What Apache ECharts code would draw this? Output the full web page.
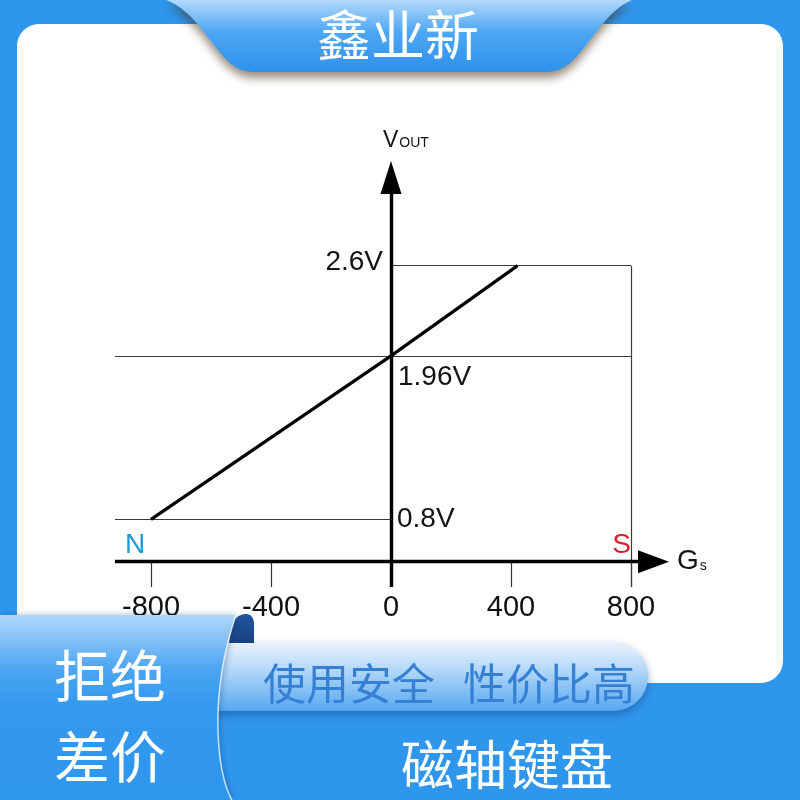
<!DOCTYPE html>
<html>
<head>
<meta charset="utf-8">
<script src="https://cdn.jsdelivr.net/npm/echarts@6/dist/echarts.min.js"></script>
<style>
html,body{margin:0;padding:0;background:#2f96ee;}
#c{width:800px;height:800px;}
</style>
</head>
<body>
<div id="c"></div>
<script>
// ---- data ----
const xTickValues = [-800, -400, 0, 400, 800];
const xRange = [-920, 920];
const yRange = [0.32, 3.3];
const xAxisLevel = 0.5;
const transferX = [-800, 0, 422];
const transferY = [0.8, 1.96, 2.6];
const levelValues = [2.6, 1.96, 0.8];
const levelLabels = ['2.6V', '1.96V', '0.8V'];
const xArrowEnd = 875;
const yArrowEnd = 3.226;
const poleLabels = ['N', 'S'];
const axisNames = ['G', 's', 'V', 'OUT'];
const titleText = '鑫业新';
const sideTexts = ['拒绝', '差价'];
const pillTexts = ['使用安全', '性价比高'];
const footerText = '磁轴键盘';

const latin = '"Liberation Sans", Arial, sans-serif';
const narrow = '"Liberation Sans Narrow", "Liberation Sans", Arial, sans-serif';
const cjk = '"Noto Sans CJK SC", sans-serif';
const G = echarts.graphic;

// sample a simple path (M/L/C commands) into polygon points (decoration only)
function samplePath(cmds) {
  const pts = [];
  let cx = 0, cy = 0;
  cmds.forEach(c => {
    if (c[0] === 'M' || c[0] === 'L') { cx = c[1]; cy = c[2]; pts.push([cx, cy]); }
    else if (c[0] === 'C') {
      const [, x1, y1, x2, y2, x, y] = c;
      for (let i = 1; i <= 16; i++) {
        const t = i / 16, u = 1 - t;
        pts.push([u*u*u*cx + 3*u*u*t*x1 + 3*u*t*t*x2 + t*t*t*x,
                  u*u*u*cy + 3*u*u*t*y1 + 3*u*t*t*y2 + t*t*t*y]);
      }
      cx = x; cy = y;
    }
  });
  return pts;
}

const gridTop = 167, gridBottom = 213;
const pxPerV = (800 - gridTop - gridBottom) / (yRange[1] - yRange[0]);
const xAxisOffset = -Math.round((xAxisLevel - yRange[0]) * pxPerV);

const chart = echarts.init(document.getElementById('c'), null, {renderer: 'canvas'});

const lineData = transferX.map((x, i) => [x, transferY[i]]);
const maxX = xTickValues[xTickValues.length - 1];

const thinLines = [
  [{coord: [0, levelValues[0]]}, {coord: [maxX, levelValues[0]]}],
  [{coord: [xRange[0], levelValues[1]]}, {coord: [maxX, levelValues[1]]}],
  [{coord: [xRange[0], levelValues[2]]}, {coord: [0, levelValues[2]]}],
  [{coord: [maxX, yRange[0]]}, {coord: [maxX, levelValues[0]]}]
];
const axisLines = [
  [{coord: [xRange[0], xAxisLevel], symbol: 'none'},
   {coord: [xArrowEnd, xAxisLevel], symbol: 'triangle', symbolSize: [23, 31]}],
  [{coord: [0, yRange[0]], symbol: 'none'},
   {coord: [0, yArrowEnd], symbol: 'triangle', symbolSize: [21, 33]}]
];

function txt(coord, text, opts) {
  return {
    coord: coord, value: 0,
    label: Object.assign({
      show: true, position: 'inside', formatter: text,
      fontFamily: latin, fontSize: 28, color: '#141414',
      verticalAlign: 'middle'
    }, opts)
  };
}

const textPoints = [
  txt([0, levelValues[0]], levelLabels[0], {align: 'right', offset: [-8, -3]}),
  txt([0, levelValues[1]], levelLabels[1], {align: 'left', offset: [7, 21]}),
  txt([0, levelValues[2]], levelLabels[2], {align: 'left', offset: [6, 0]}),
  txt([xRange[0], xAxisLevel], poleLabels[0], {align: 'left', offset: [10, -16], color: '#1c9ad8'}),
  txt([maxX, xAxisLevel], poleLabels[1], {align: 'right', offset: [0, -16], color: '#d3222a'}),
  txt([xRange[1], xAxisLevel], '{g|' + axisNames[0] + '}{s|' + axisNames[1] + '}', {
    align: 'left', offset: [10, 0],
    rich: {g: {fontSize: 28, fontFamily: latin, color: '#141414', verticalAlign: 'bottom'},
           s: {fontSize: 14, fontFamily: latin, color: '#141414', verticalAlign: 'bottom', padding: [0, 0, 2, 1]}}
  }),
  txt([0, yRange[1]], '{v|' + axisNames[2] + '}{o|' + axisNames[3] + '}', {
    align: 'left', offset: [-8, -26],
    rich: {v: {fontSize: 23, fontFamily: latin, color: '#141414', verticalAlign: 'bottom'},
           o: {fontSize: 14, fontFamily: latin, color: '#141414', verticalAlign: 'bottom', padding: [0, 0, 2, 1]}}
  })
];

const tabPts = samplePath([['M',166,0],['L',632,0],['C',614,8,604,22,590,40],['C',576,58,566,72,546,72],
  ['L',254,72],['C',234,72,224,58,210,40],['C',196,22,186,8,166,0]]);
const panelEdge = [['M',236,615],['C',224,650,217,690,218,730],['C',219,765,225,788,232,800]];
const panelPts = samplePath([['M',0,615]].concat([['L',236,615]], panelEdge.slice(1), [['L',0,800]]));
const edgePts = samplePath(panelEdge);
const foldPts = samplePath([['M',229,643],['L',231,628],['C',233,619,239,614,246,614],['C',251,614,254,618,254,624],['L',254,643]]);

const option = {
  animation: false,
  grid: {left: 115, right: 133, top: gridTop, bottom: gridBottom, containLabel: false},
  xAxis: {
    type: 'value', min: xRange[0], max: xRange[1], offset: xAxisOffset,
    axisLine: {show: false},
    splitLine: {show: false},
    axisTick: {show: true, customValues: xTickValues, length: 25, inside: false,
               lineStyle: {color: '#333', width: 1.2}},
    axisLabel: {show: true, customValues: xTickValues, margin: 31, fontSize: 29,
                fontFamily: narrow, color: '#111', verticalAlign: 'top'}
  },
  yAxis: {
    type: 'value', min: yRange[0], max: yRange[1],
    axisLine: {show: false}, axisTick: {show: false},
    axisLabel: {show: false}, splitLine: {show: false}
  },
  series: [
    {
      type: 'line', data: [], silent: true, clip: false, z: 3,
      markLine: {
        silent: true, symbol: ['none', 'none'], animation: false,
        label: {show: false},
        lineStyle: {color: '#3a3a3a', width: 1.2, type: 'solid'},
        emphasis: {disabled: true},
        data: thinLines
      }
    },
    {
      type: 'line', data: lineData, showSymbol: false, symbol: 'none', silent: true, clip: false, z: 5,
      lineStyle: {color: '#000', width: 3.2},
      markLine: {
        silent: true, symbol: ['none', 'none'], animation: false,
        label: {show: false},
        lineStyle: {color: '#000', width: 3.4, type: 'solid'},
        itemStyle: {color: '#000'},
        emphasis: {disabled: true},
        data: axisLines
      },
      markPoint: {
        silent: true, animation: false,
        symbol: 'circle', symbolSize: 1,
        itemStyle: {color: 'rgba(0,0,0,0)'},
        data: textPoints
      }
    }
  ],
  graphic: [
    {type: 'rect', z: -30, silent: true, shape: {x: 0, y: 0, width: 800, height: 800},
     style: {fill: '#2f96ee'}},
    {type: 'rect', z: -20, silent: true, shape: {x: 17, y: 24, width: 766, height: 659, r: 22},
     style: {fill: '#ffffff'}},
    {type: 'polygon', z: 50, silent: true, shape: {points: tabPts},
     style: {fill: new G.LinearGradient(0, 0, 0, 1, [
        {offset: 0, color: '#b3d9fb'}, {offset: 0.45, color: '#4ca6f4'}, {offset: 1, color: '#2f91eb'}]),
        shadowBlur: 10, shadowColor: 'rgba(70,45,20,0.55)', shadowOffsetY: 6}},
    {type: 'text', z: 60, silent: true, x: 398, y: 35,
     style: {text: titleText, fill: '#ffffff', fontSize: 54, fontFamily: cjk, align: 'center', verticalAlign: 'middle'}},
    {type: 'rect', z: 40, silent: true, shape: {x: 190, y: 642, width: 458, height: 69, r: [0, 35, 35, 0]},
     style: {fill: new G.LinearGradient(0, 0, 0, 1, [
        {offset: 0, color: '#e9f4fe'}, {offset: 0.4, color: '#b4d8f9'}, {offset: 1, color: '#55a7f2'}]),
        shadowBlur: 8, shadowColor: 'rgba(20,60,120,0.45)', shadowOffsetY: 4}},
    {type: 'text', z: 45, silent: true, x: 349, y: 684,
     style: {text: pillTexts[0], fill: '#3680d4', fontSize: 43, fontFamily: cjk, align: 'center', verticalAlign: 'middle'}},
    {type: 'text', z: 45, silent: true, x: 549, y: 684,
     style: {text: pillTexts[1], fill: '#3680d4', fontSize: 43, fontFamily: cjk, align: 'center', verticalAlign: 'middle'}},
    {type: 'polygon', z: 55, silent: true, shape: {points: foldPts},
     style: {fill: new G.LinearGradient(0, 0, 0, 1, [
        {offset: 0, color: '#1f55a0'}, {offset: 1, color: '#17427f'}])}},
    {type: 'polygon', z: 70, silent: true, shape: {points: panelPts},
     style: {fill: new G.LinearGradient(0, 0, 0, 1, [
        {offset: 0, color: '#b0d7fa'}, {offset: 0.3, color: '#4aa4f3'}, {offset: 0.5, color: '#3399ef'}, {offset: 1, color: '#2f96ee'}]),
        shadowBlur: 6, shadowColor: 'rgba(10,50,110,0.35)', shadowOffsetX: 2}},
    {type: 'polyline', z: 72, silent: true, shape: {points: edgePts},
     style: {fill: null, stroke: 'rgba(255,255,255,0.75)', lineWidth: 1.5}},
    {type: 'text', z: 80, silent: true, x: 110, y: 676,
     style: {text: sideTexts[0], fill: '#ffffff', fontSize: 56, fontFamily: cjk, align: 'center', verticalAlign: 'middle'}},
    {type: 'text', z: 80, silent: true, x: 110, y: 757,
     style: {text: sideTexts[1], fill: '#ffffff', fontSize: 56, fontFamily: cjk, align: 'center', verticalAlign: 'middle'}},
    {type: 'text', z: 80, silent: true, x: 507, y: 765,
     style: {text: footerText, fill: '#ffffff', fontSize: 53, fontFamily: cjk, align: 'center', verticalAlign: 'middle'}}
  ]
};
chart.setOption(option);
</script>
</body>
</html>
